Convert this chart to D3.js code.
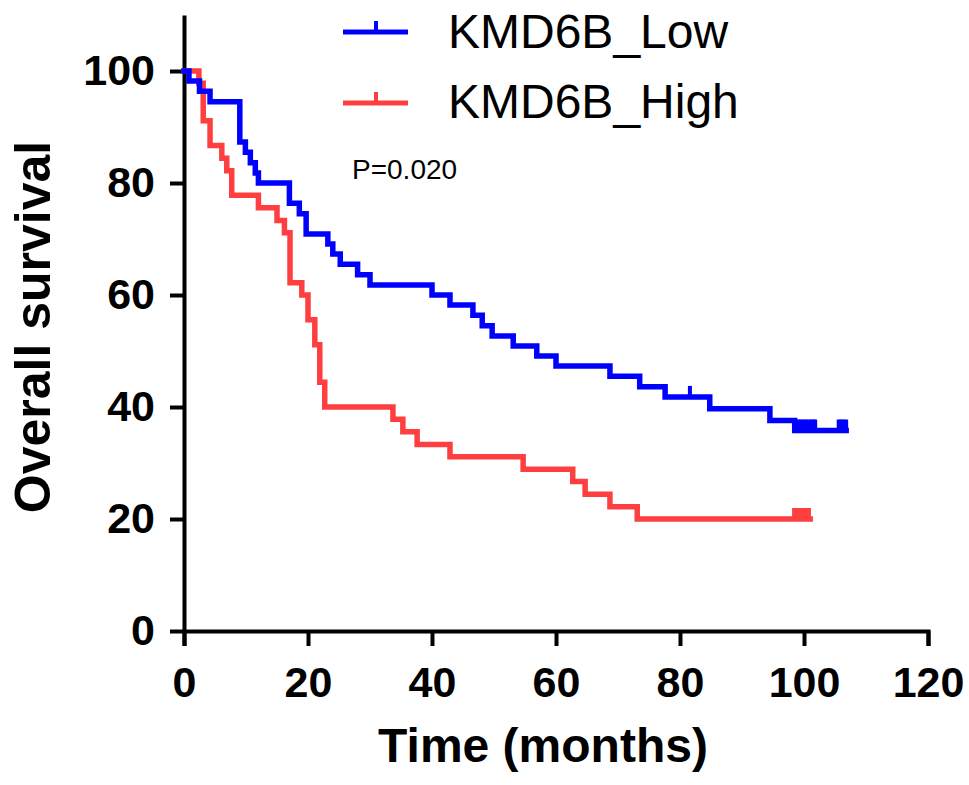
<!DOCTYPE html>
<html>
<head>
<meta charset="utf-8">
<script src="https://cdn.jsdelivr.net/npm/d3@7"></script>
<style>
  html, body { margin: 0; padding: 0; background: #fff; }
  svg { display: block; }
  text { font-family: Arial, "Liberation Sans", sans-serif; }
</style>
</head>
<body>
<svg id="chart" width="969" height="785"></svg>
<script>
// ---- data ----
const seriesNames = ["KMD6B_Low", "KMD6B_High"];
const lowTimes = [0, 0.8, 2.5, 4.2, 9.0, 9.9, 10.7, 11.5, 12.0, 17.0, 18.6, 19.7, 23.2, 24.0, 25.2, 28.0, 30.0, 40.0, 42.9, 46.6, 48.1, 49.7, 53.1, 56.9, 60.0, 68.7, 73.5, 77.6, 84.8, 94.5, 98.5];
const lowSurv  = [100, 98.2, 96.4, 94.5, 87.3, 85.5, 83.6, 81.8, 80.0, 76.4, 74.5, 70.9, 69.1, 67.3, 65.5, 63.6, 61.8, 60.0, 58.2, 56.4, 54.5, 52.7, 50.9, 49.1, 47.3, 45.5, 43.6, 41.8, 39.7, 37.6, 35.8];
const lowEnd = 106.8;
const lowCensor = [81.6, 98.7, 99.1, 99.5, 99.9, 100.3, 100.7, 101.1, 101.5, 101.8, 105.6, 106.0, 106.4, 106.8];

const highTimes = [0, 2.4, 3.1, 4.2, 6.1, 6.9, 7.7, 12.0, 15.0, 16.2, 17.1, 19.0, 20.0, 21.1, 21.9, 22.7, 33.7, 35.3, 37.6, 42.9, 54.7, 62.7, 64.7, 68.7, 73.1];
const highSurv  = [100, 97.8, 91.1, 86.7, 84.4, 82.2, 77.8, 75.6, 73.3, 71.1, 62.2, 60.0, 55.6, 51.1, 44.4, 40.0, 37.8, 35.6, 33.3, 31.1, 28.9, 26.7, 24.4, 22.2, 20.0];
const highEnd = 101.0;
const highCensor = [98.4, 98.8, 99.2, 99.6, 100.0, 100.4, 100.8];

const xTicks = [0, 20, 40, 60, 80, 100, 120];
const yTicks = [0, 20, 40, 60, 80, 100];
const pText = "P=0.020";

// ---- layout ----
const BLUE = "#0000ff", RED = "#ff3f3f";
const svg = d3.select("#chart");
const x = d3.scaleLinear().domain([0, 120]).range([184, 928]);
const y = d3.scaleLinear().domain([0, 110]).range([631, 15]);

function steps(times, surv, end) {
  const pts = times.map((t, i) => [t, surv[i]]);
  pts.push([end, surv[surv.length - 1]]);
  return pts;
}
function survAt(times, surv, t) {
  let v = surv[0];
  for (let i = 0; i < times.length; i++) if (times[i] <= t) v = surv[i];
  return v;
}
const line = d3.line().x(d => x(d[0])).y(d => y(d[1])).curve(d3.curveStepAfter);

// axes
const gx = svg.append("g").attr("transform", "translate(0,631)")
  .call(d3.axisBottom(x).tickValues(xTicks).tickSize(15).tickSizeOuter(15).tickPadding(20).tickFormat(d3.format("d")));
const gy = svg.append("g").attr("transform", "translate(184,0)")
  .call(d3.axisLeft(y).tickValues(yTicks).tickSize(14).tickSizeOuter(0).tickPadding(15).tickFormat(d3.format("d")));
[gx, gy].forEach(g => {
  g.select(".domain").attr("stroke", "#000").attr("stroke-width", 4);
  g.selectAll(".tick line").attr("stroke", "#000").attr("stroke-width", 4);
  g.selectAll(".tick text").attr("fill", "#000").style("font-size", "43px").style("font-weight", "bold")
    .style("font-family", "Arial, 'Liberation Sans', sans-serif");
});

// curves (High first so Low sits on top)
const groups = [
  {name: seriesNames[1], color: RED, pts: steps(highTimes, highSurv, highEnd), censor: highCensor, t: highTimes, s: highSurv},
  {name: seriesNames[0], color: BLUE, pts: steps(lowTimes, lowSurv, lowEnd), censor: lowCensor, t: lowTimes, s: lowSurv}
];
groups.forEach(g => {
  svg.append("path").datum(g.pts).attr("d", line)
    .attr("fill", "none").attr("stroke", g.color).attr("stroke-width", 5.5).attr("stroke-linejoin", "miter").attr("stroke-linecap", "square");
  svg.append("g").selectAll("line").data(g.censor).join("line")
    .attr("x1", d => x(d)).attr("x2", d => x(d))
    .attr("y1", d => y(survAt(g.t, g.s, d)))
    .attr("y2", d => y(survAt(g.t, g.s, d)) - 11)
    .attr("stroke", g.color).attr("stroke-width", 4);
});

// titles
svg.append("text").attr("transform", "translate(50,327) rotate(-90)")
  .attr("text-anchor", "middle").style("font-size", "50px").style("font-weight", "bold").attr("fill", "#000")
  .text("Overall survival");
svg.append("text").attr("x", 543).attr("y", 762)
  .attr("text-anchor", "middle").style("font-size", "48px").style("font-weight", "bold").attr("fill", "#000")
  .text("Time (months)");

// legend
const legendRows = [
  {name: seriesNames[0], color: BLUE, ly: 32, ty: 48},
  {name: seriesNames[1], color: RED, ly: 103, ty: 118}
];
const lg = svg.append("g");
legendRows.forEach(r => {
  lg.append("line").attr("x1", 343).attr("x2", 408).attr("y1", r.ly).attr("y2", r.ly)
    .attr("stroke", r.color).attr("stroke-width", 5);
  lg.append("line").attr("x1", 376).attr("x2", 376).attr("y1", r.ly).attr("y2", r.ly - 11)
    .attr("stroke", r.color).attr("stroke-width", 4);
  lg.append("text").attr("x", 448).attr("y", r.ty).style("font-size", "48px").attr("fill", "#000").text(r.name);
});
svg.append("text").attr("x", 352).attr("y", 179).style("font-size", "28px").attr("fill", "#000").text(pText);
</script>
</body>
</html>
